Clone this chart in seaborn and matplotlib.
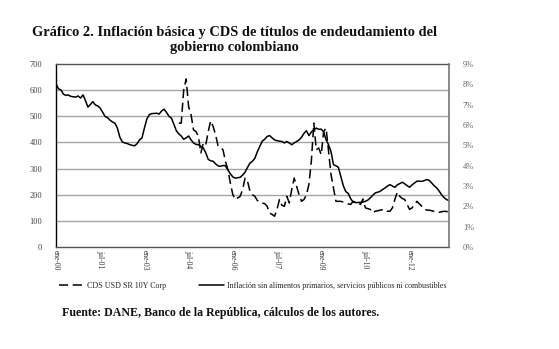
import numpy as np
import pandas as pd
import matplotlib
matplotlib.use("Agg")
import matplotlib.pyplot as plt
import seaborn as sns
from matplotlib.lines import Line2D

# ---- data (monthly, ene-00 .. may-13) ----
inflation = [8.02, 7.78, 7.73, 7.52, 7.46, 7.48, 7.41, 7.39, 7.37, 7.43, 7.33, 7.48,
             7.20, 6.88, 7.01, 7.15, 6.99, 6.94, 6.83, 6.62, 6.42, 6.36, 6.24, 6.15,
             6.09, 5.85, 5.40, 5.17, 5.12, 5.09, 5.04, 5.00, 4.98, 5.08, 5.27, 5.36,
             5.85, 6.30, 6.51, 6.56, 6.57, 6.58, 6.54, 6.69, 6.78, 6.62, 6.43, 6.34,
             6.04, 5.72, 5.57, 5.46, 5.30, 5.37, 5.46, 5.27, 5.12, 5.05, 5.03, 4.95,
             4.87, 4.63, 4.31, 4.24, 4.22, 4.09, 3.99, 3.97, 4.01, 4.00, 3.79, 3.60,
             3.45, 3.39, 3.41, 3.43, 3.54, 3.68, 3.92, 4.13, 4.22, 4.37, 4.69, 4.95,
             5.21, 5.30, 5.44, 5.48, 5.37, 5.27, 5.23, 5.21, 5.19, 5.12, 5.19, 5.12,
             5.03, 5.12, 5.19, 5.27, 5.40, 5.59, 5.72, 5.48, 5.66, 5.76, 5.85, 5.79,
             5.80, 5.66, 5.27, 5.03, 4.69, 4.05, 4.00, 3.92, 3.47, 3.02, 2.73, 2.64,
             2.38, 2.21, 2.19, 2.19, 2.20, 2.21, 2.25, 2.31, 2.42, 2.55, 2.66, 2.70,
             2.74, 2.83, 2.91, 3.00, 3.07, 3.00, 2.94, 3.06, 3.12, 3.19, 3.11, 3.02,
             2.94, 3.06, 3.15, 3.24, 3.24, 3.23, 3.27, 3.32, 3.28, 3.15, 3.02, 2.91,
             2.76, 2.58, 2.44, 2.34, 2.29]

cds_start = 50  # first CDS observation: mar-04
cds = [474, 474, 600, 643, 537, 506, 448, 442, 423, 360,
       398, 391, 442, 483, 461, 429, 387, 380, 372, 328,
       296, 245, 201, 182, 188, 194, 220, 264, 252, 213,
       200, 194, 178, 175, 168, 166, 156, 130, 125, 118,
       144, 182, 160, 156, 194, 169, 220, 264, 232, 200,
       175, 182, 200, 240, 330, 474, 372, 379, 353, 442,
       455, 366, 277, 226, 175, 175, 175, 172, 169, 165,
       163, 175, 172, 169, 163, 184, 150, 147, 144, 131,
       137, 139, 141, 143, 144, 137, 137, 150, 182, 210,
       194, 186, 182, 163, 144, 150, 163, 175, 165, 156,
       144, 142, 141, 139, 137, 135, 133, 135, 137, 136, 136]

tick_labels = ["ene-00", "jul-01", "ene-03", "jul-04", "ene-06",
               "jul-07", "ene-09", "jul-10", "ene-12"]
tick_step = 18

left_ticks = [0, 100, 200, 300, 400, 500, 600, 700]
right_ticks = [0, 1, 2, 3, 4, 5, 6, 7, 8, 9]

lbl_cds = "CDS USD SR 10Y Corp"
lbl_inf = "Inflación sin alimentos primarios, servicios públicos ni combustibles"
title = "Gráfico 2. Inflación básica y CDS de títulos de endeudamiento del\ngobierno colombiano"
source = "Fuente: DANE, Banco de la República, cálculos de los autores."

# ---- frames ----
n = len(inflation)
df_inf = pd.DataFrame({"m": np.arange(n), "v": inflation})
cds_full = [np.nan] * cds_start + cds
cds_full = cds_full[:n] + [np.nan] * (n - len(cds_full))
df_cds = pd.DataFrame({"m": np.arange(n), "v": cds_full})

# ---- figure ----
sns.set_theme(style="white")
plt.rcParams["font.family"] = ["Liberation Serif", "DejaVu Serif"]

fig = plt.figure(figsize=(5.59, 3.49), dpi=100)
ax = fig.add_axes([0.1002, 0.292, 0.7028, 0.5246])
ax2 = ax.twinx()

sns.lineplot(data=df_cds, x="m", y="v", ax=ax, color="black", lw=1.1,
             dashes=False, legend=False)
ax.lines[-1].set_dashes([6, 3])
sns.lineplot(data=df_inf, x="m", y="v", ax=ax2, color="black", lw=1.1,
             legend=False)

ax.set_xlim(0, n - 1)
ax.set_ylim(0, 700)
ax2.set_ylim(0, 9)
ax.set_yticks(left_ticks)
ax.set_yticklabels([str(t) for t in left_ticks])
ax2.set_yticks(right_ticks)
ax2.set_yticklabels([f"{t}%" for t in right_ticks])
ax.set_xticks([i * tick_step for i in range(len(tick_labels))])
ax.set_xticklabels(tick_labels, rotation=-90, fontsize=5.5, color="#333333")
ax.set_xlabel("")
ax.set_ylabel("")
ax2.set_ylabel("")

for t in left_ticks[1:-1]:
    ax.axhline(t, color="#a6a6a6", lw=1.0, zorder=0)

ax.tick_params(axis="y", labelsize=6, colors="#444444", length=0, pad=10)
ax2.tick_params(axis="y", labelsize=6, colors="#666666", length=0, pad=10)
ax.tick_params(axis="x", length=0, pad=2)
ax.grid(False)
ax2.grid(False)

for a in (ax, ax2):
    for s in a.spines.values():
        s.set_visible(False)
ax.spines["left"].set_visible(True)
ax.spines["left"].set_color("black")
ax.spines["left"].set_linewidth(1.0)
ax.spines["bottom"].set_visible(True)
ax.spines["bottom"].set_color("#555555")
ax.spines["bottom"].set_linewidth(1.0)
ax.spines["top"].set_visible(True)
ax.spines["top"].set_color("#555555")
ax.spines["top"].set_linewidth(1.0)
ax2.spines["right"].set_visible(True)
ax2.spines["right"].set_color("#777777")
ax2.spines["right"].set_linewidth(1.2)

handles = [Line2D([], [], color="black", lw=1.1, dashes=[6, 3]),
           Line2D([], [], color="black", lw=1.1)]
fig.legend(handles, [lbl_cds, lbl_inf], loc="center", ncol=2,
           bbox_to_anchor=(0.452, 0.18), frameon=False, fontsize=5.8,
           handlelength=3.2, columnspacing=4.0, handletextpad=0.3)

fig.text(0.42, 0.885, title, ha="center", va="center", fontsize=10.4,
         fontweight="bold", linespacing=1.25, color="#111111")
fig.text(0.111, 0.103, source, ha="left", va="center", fontsize=8.6,
         fontweight="bold", color="#111111")

fig.savefig("out.png", dpi=100)
